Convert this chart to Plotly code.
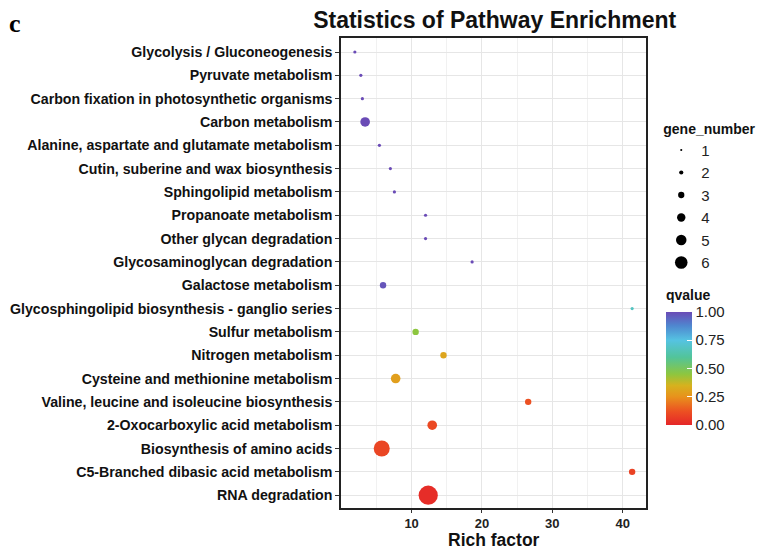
import plotly.graph_objects as go

# KEGG pathways, top to bottom as listed on the y axis
pathways = [
    "Glycolysis / Gluconeogenesis",
    "Pyruvate metabolism",
    "Carbon fixation in photosynthetic organisms",
    "Carbon metabolism",
    "Alanine, aspartate and glutamate metabolism",
    "Cutin, suberine and wax biosynthesis",
    "Sphingolipid metabolism",
    "Propanoate metabolism",
    "Other glycan degradation",
    "Glycosaminoglycan degradation",
    "Galactose metabolism",
    "Glycosphingolipid biosynthesis - ganglio series",
    "Sulfur metabolism",
    "Nitrogen metabolism",
    "Cysteine and methionine metabolism",
    "Valine, leucine and isoleucine biosynthesis",
    "2-Oxocarboxylic acid metabolism",
    "Biosynthesis of amino acids",
    "C5-Branched dibasic acid metabolism",
    "RNA degradation",
]
rich_factor = [1.93, 2.78, 3.0, 3.39, 5.42, 6.98, 7.55, 11.98, 11.98, 18.6,
               5.94, 41.35, 10.57, 14.53, 7.73, 26.57, 12.93, 5.75, 41.35, 12.36]
gene_number = [1, 1, 1, 3, 1, 1, 1, 1, 1, 1,
               2, 1, 2, 2, 3, 2, 3, 5, 2, 6]
qvalue = [1.0, 1.0, 1.0, 1.0, 1.0, 1.0, 1.0, 1.0, 1.0, 1.0,
          0.98, 0.68, 0.45, 0.31, 0.29, 0.12, 0.1, 0.09, 0.08, 0.02]

legend_sizes = [1, 2, 3, 4, 5, 6]
q_ticks = [0, 0.25, 0.5, 0.75, 1.0]

q_scale = [
    [0.0, "#E52629"],
    [0.12, "#EC5022"],
    [0.25, "#E8921C"],
    [0.35, "#D6B21E"],
    [0.45, "#8DC63F"],
    [0.6, "#52C49A"],
    [0.75, "#55C3E2"],
    [0.88, "#4F86CF"],
    [1.0, "#6A4BB6"],
]

FONT = "Liberation Sans, Arial, Helvetica, sans-serif"
PX_PER_GENE = 3.2

fig = go.Figure()

fig.add_trace(go.Scatter(
    x=rich_factor,
    y=pathways,
    mode="markers",
    showlegend=False,
    marker=dict(
        size=[g * PX_PER_GENE for g in gene_number],
        color=qvalue,
        cmin=0, cmax=1,
        colorscale=q_scale,
        line=dict(width=0),
        opacity=1,
        showscale=True,
        colorbar=dict(
            tickvals=q_ticks,
            tickformat=".2f",
            tickfont=dict(family=FONT, size=15, color="#222"),
            ticks="inside", ticklen=5, tickcolor="white",
            outlinewidth=0,
            thickness=26,
            lenmode="pixels", len=113,
            x=1.066, xanchor="left",
            y=0.297, yanchor="middle",
            xpad=0, ypad=0,
        ),
    ),
))

# size key for gene_number
for g in legend_sizes:
    fig.add_trace(go.Scatter(
        x=[None], y=[None],
        mode="markers",
        name=str(g),
        legendgroup=str(g),
        marker=dict(size=g * 2.1, color="black", line=dict(width=0)),
    ))

fig.update_layout(
    width=779, height=549,
    margin=dict(l=341, r=133, t=38, b=41),
    paper_bgcolor="white",
    plot_bgcolor="white",
    title=dict(text="<b>Statistics of Pathway Enrichment</b>",
               x=0.635, xanchor="center", y=0.963, yanchor="middle",
               font=dict(family=FONT, size=23, color="#111")),
    legend=dict(
        title=dict(text="<b>gene_number</b>", font=dict(family=FONT, size=14, color="#111")),
        font=dict(family=FONT, size=15, color="#222"),
        x=1.05, xanchor="left", y=0.835, yanchor="top",
        itemsizing="trace",
        tracegroupgap=0,
        bgcolor="rgba(0,0,0,0)",
    ),
    xaxis=dict(
        range=[-0.04, 43.32],
        tickvals=[10, 20, 30, 40],
        showgrid=True, gridcolor="#E6E6E6", gridwidth=1,
        minor=dict(tickvals=[5, 15, 25, 35], showgrid=True, gridcolor="#F1F1F1", gridwidth=1),
        ticks="outside", ticklen=3, tickcolor="#333",
        tickfont=dict(family=FONT, size=13, color="#222", weight="bold"),
        showline=True, linecolor="#222", linewidth=1.5, mirror=True,
        zeroline=False,
        automargin=False,
    ),
    yaxis=dict(
        type="category",
        categoryorder="array", categoryarray=pathways,
        range=[len(pathways) - 0.45, -0.6],
        showgrid=True, gridcolor="#E6E6E6", gridwidth=1,
        ticks="outside", ticklen=4, tickcolor="#333",
        tickfont=dict(family=FONT, size=14.2, color="#111", weight="bold"),
        showline=True, linecolor="#222", linewidth=1.5, mirror=True,
        zeroline=False,
        automargin=False,
    ),
    annotations=[
        dict(
            text="<b>c</b>", xref="paper", yref="paper",
            x=-1.095, y=1.03, xanchor="left", yanchor="middle",
            showarrow=False,
            font=dict(family="Liberation Serif, Times New Roman, serif", size=26, color="black"),
        ),
        # x axis heading
        dict(
            text="<b>Rich factor</b>", xref="paper", yref="paper",
            x=0.5, y=-0.069, xanchor="center", yanchor="middle",
            showarrow=False, borderpad=0,
            font=dict(family=FONT, size=17.5, color="#111"),
        ),
        # colour key heading
        dict(
            text="<b>qvalue</b>", xref="paper", yref="paper",
            x=1.063, y=0.433, xanchor="left", yanchor="bottom",
            showarrow=False, borderpad=0,
            font=dict(family=FONT, size=14, color="#111"),
        ),
    ],
)

fig.write_html("out.html")
